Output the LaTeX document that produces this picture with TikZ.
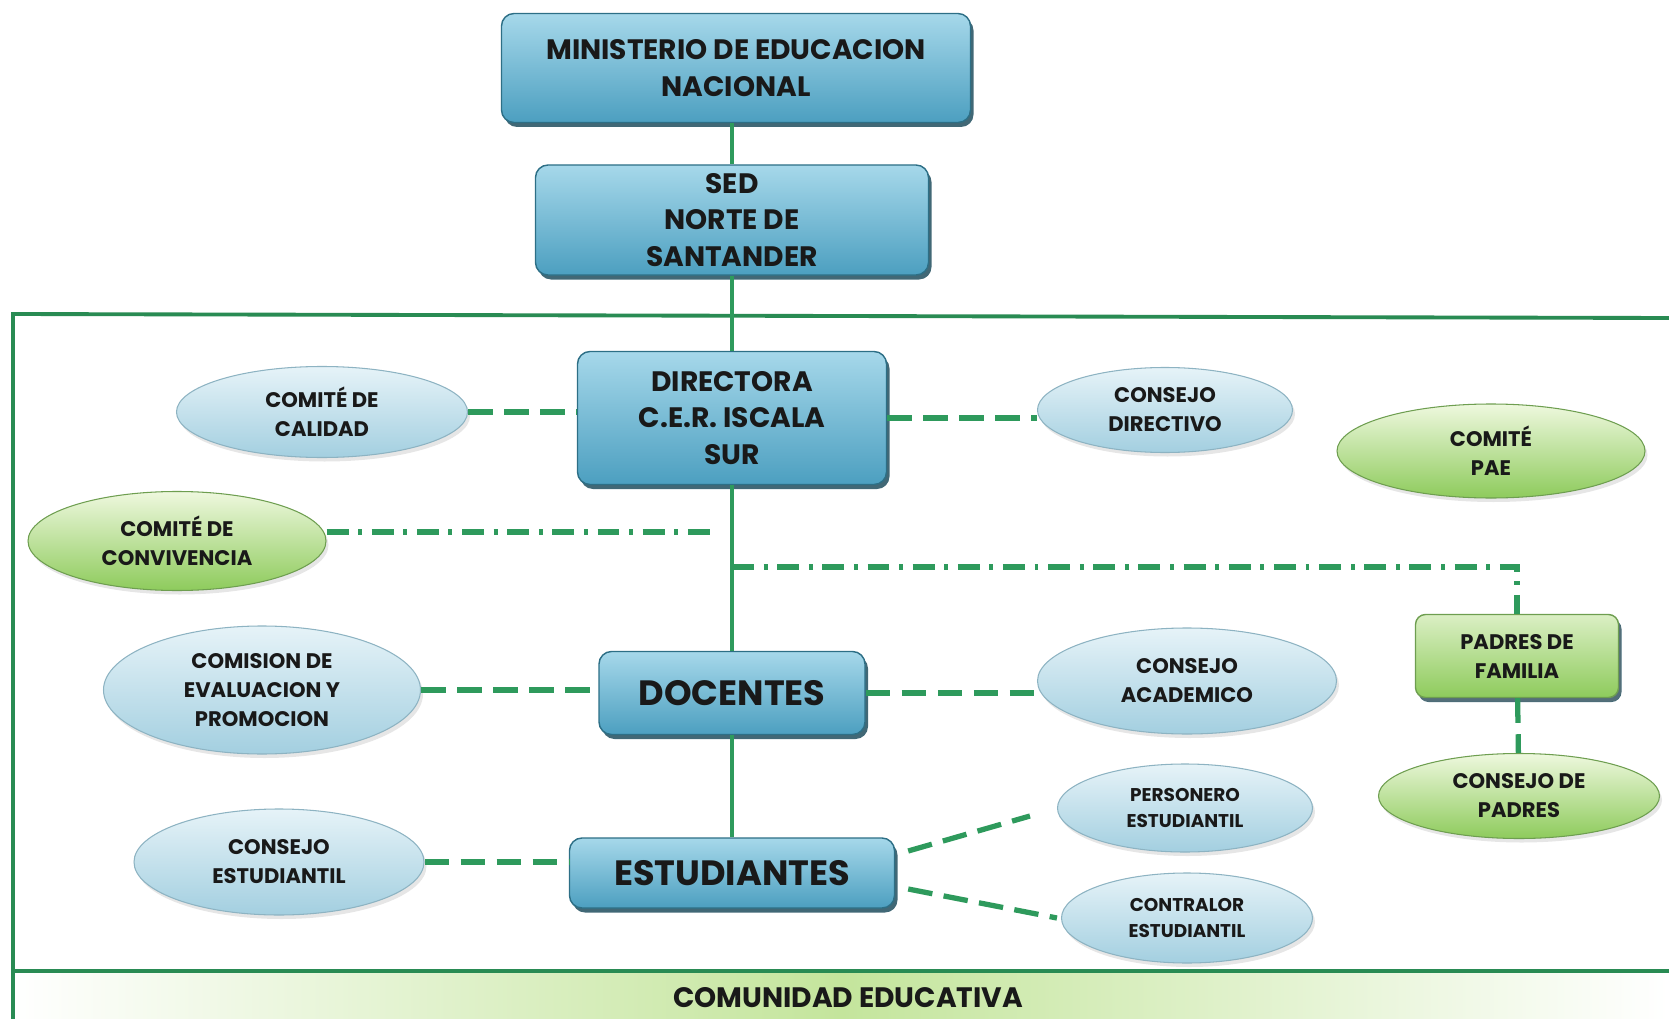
\documentclass[tikz,border=0pt]{standalone}
\usepackage{fontspec}
\setmainfont{Poppins}
\usetikzlibrary{shapes.geometric,shadows}
\definecolor{linegreen}{HTML}{2E9A5C}
\definecolor{boxtop}{HTML}{A6D8EA}
\definecolor{boxbot}{HTML}{4C9FC0}
\definecolor{boxline}{HTML}{2D6F86}
\definecolor{elltop}{HTML}{E6F3F8}
\definecolor{ellbot}{HTML}{A3CFE0}
\definecolor{elline}{HTML}{8DB3C2}
\definecolor{greentop}{HTML}{EEF8DE}
\definecolor{greenbot}{HTML}{8ECB5C}
\definecolor{greenline}{HTML}{6E9E50}
\definecolor{bandgreen}{HTML}{C4E59C}

\begin{document}
\begin{tikzpicture}[x=0.2mm, y=-0.2mm]
    \tikzstyle{every node} = [align=center, text=black!90]
    \tikzstyle{box} = [rectangle, rounded corners=2.5mm, draw=boxline, line width=0.8pt, top color=boxtop, bottom color=boxbot, drop shadow={shadow xshift=0.6mm, shadow yshift=-0.9mm, fill=boxline!70!black, opacity=0.85}, font=\bfseries\fontsize{16}{21}\selectfont]
    \tikzstyle{bigbox} = [box, font=\bfseries\fontsize{20}{24}\selectfont]
    \tikzstyle{oval} = [ellipse, inner sep=0pt, draw=elline, line width=0.6pt, top color=elltop, bottom color=ellbot, drop shadow={shadow xshift=0.5mm, shadow yshift=-0.8mm, opacity=0.2}, font=\bfseries\fontsize{12}{16.5}\selectfont]
    \tikzstyle{smalloval} = [oval, font=\bfseries\fontsize{10.5}{14.8}\selectfont]
    \tikzstyle{greenoval} = [oval, draw=greenline, top color=greentop, bottom color=greenbot]
    \tikzstyle{greenbox} = [box, rounded corners=2mm, draw=greenline, top color=greentop!80!greenbot, bottom color=greenbot, drop shadow={shadow xshift=0.5mm, shadow yshift=-0.8mm, opacity=0.3}, font=\bfseries\fontsize{12}{16.5}\selectfont]
    \tikzstyle{solidline} = [draw=linegreen, line width=2.4pt]
    \tikzstyle{dashline} = [draw=linegreen, line width=3pt, dash pattern=on 14pt off 6.5pt]
    \tikzstyle{dotline} = [draw=linegreen, line width=3pt, dash pattern=on 12.5pt off 5.5pt on 2.2pt off 5.5pt]

    \useasboundingbox (0,0) rectangle (1669,1019);
    \fill[left color=white, right color=white, middle color=bandgreen] (13,971) rectangle (1669,1019);
    \draw[draw=linegreen!90!black, line width=2.2pt] (1669,318) -- (13,314) -- (13,1019);
    \draw[draw=linegreen!90!black, line width=2.2pt] (13,971) -- (1669,971);
    \node (comunidad) at (848,998) [font=\bfseries\fontsize{16}{20}\selectfont] {COMUNIDAD EDUCATIVA};

    \node (ministerio) at (736,68) [box, minimum width=93.8mm, minimum height=21.8mm] {MINISTERIO DE EDUCACION\\NACIONAL};
    \node (sed) at (732,220) [box, minimum width=78.6mm, minimum height=22mm] {SED\\NORTE DE\\SANTANDER};
    \node (directora) at (732,418) [box, minimum width=61.8mm, minimum height=26.6mm] {DIRECTORA\\C.E.R. ISCALA\\SUR};
    \node (docentes) at (732,693) [bigbox, minimum width=53.2mm, minimum height=16.6mm] {DOCENTES};
    \node (estudiantes) at (732,873) [bigbox, minimum width=65mm, minimum height=14mm] {ESTUDIANTES};

    \node (calidad) at (322,412) [oval, minimum width=58.2mm, minimum height=18.2mm] {COMITÉ DE\\CALIDAD};
    \node (directivo) at (1165,410) [oval, minimum width=51mm, minimum height=17mm] {CONSEJO\\DIRECTIVO};
    \node (pae) at (1491,451) [greenoval, minimum width=61.6mm, minimum height=18.8mm] {COMITÉ\\PAE};
    \node (convivencia) at (177,541) [greenoval, minimum width=59.6mm, minimum height=19.8mm] {COMITÉ DE\\CONVIVENCIA};
    \node (comision) at (262,690) [oval, minimum width=63.4mm, minimum height=25.6mm] {COMISION DE\\EVALUACION Y\\PROMOCION};
    \node (academico) at (1187,681) [oval, minimum width=59.8mm, minimum height=21.2mm] {CONSEJO\\ACADEMICO};
    \node (personero) at (1185,808) [smalloval, minimum width=51mm, minimum height=17.6mm] {PERSONERO\\ESTUDIANTIL};
    \node (contralor) at (1187,918) [smalloval, minimum width=50.2mm, minimum height=18mm] {CONTRALOR\\ESTUDIANTIL};
    \node (cestudiantil) at (279,862) [oval, minimum width=58mm, minimum height=21.2mm] {CONSEJO\\ESTUDIANTIL};
    \node (padres) at (1517,656) [greenbox, minimum width=40.6mm, minimum height=16.6mm] {PADRES DE\\FAMILIA};
    \node (cpadres) at (1519,796) [greenoval, minimum width=56.2mm, minimum height=17mm] {CONSEJO DE\\PADRES};

    \coordinate (convend) at (713,532);
    \coordinate (padjoin) at (732,567);

    \draw[solidline] (sed.north |- ministerio.south) -- (sed.north);
    \draw[solidline] (sed) -- (directora);
    \draw[solidline] (directora) -- (docentes);
    \draw[solidline] (docentes) -- (estudiantes);
    \draw[dashline] (calidad) -- (calidad -| directora.west);
    \draw[dashline] (directora) -- (directora -| directivo.west);
    \draw[dashline] (comision) -- (comision -| docentes.west);
    \draw[dashline] (docentes) -- (docentes -| academico.west);
    \draw[dashline] (cestudiantil) -- (cestudiantil -| estudiantes.west);
    \draw[dashline] ([xshift=2.6mm, yshift=4.4mm]estudiantes.east) -- ([xshift=-5.4mm, yshift=-1.6mm]personero.west);
    \draw[dashline] ([xshift=2.6mm, yshift=-3.2mm]estudiantes.east) -- ([xshift=-0.8mm]contralor.west);
    \draw[dashline] (padres) -- (cpadres);
    \draw[dotline] (convivencia.east |- convend) -- (convend);
    \draw[dotline] (padjoin) -| (padres.north);
\end{tikzpicture}
\end{document}
